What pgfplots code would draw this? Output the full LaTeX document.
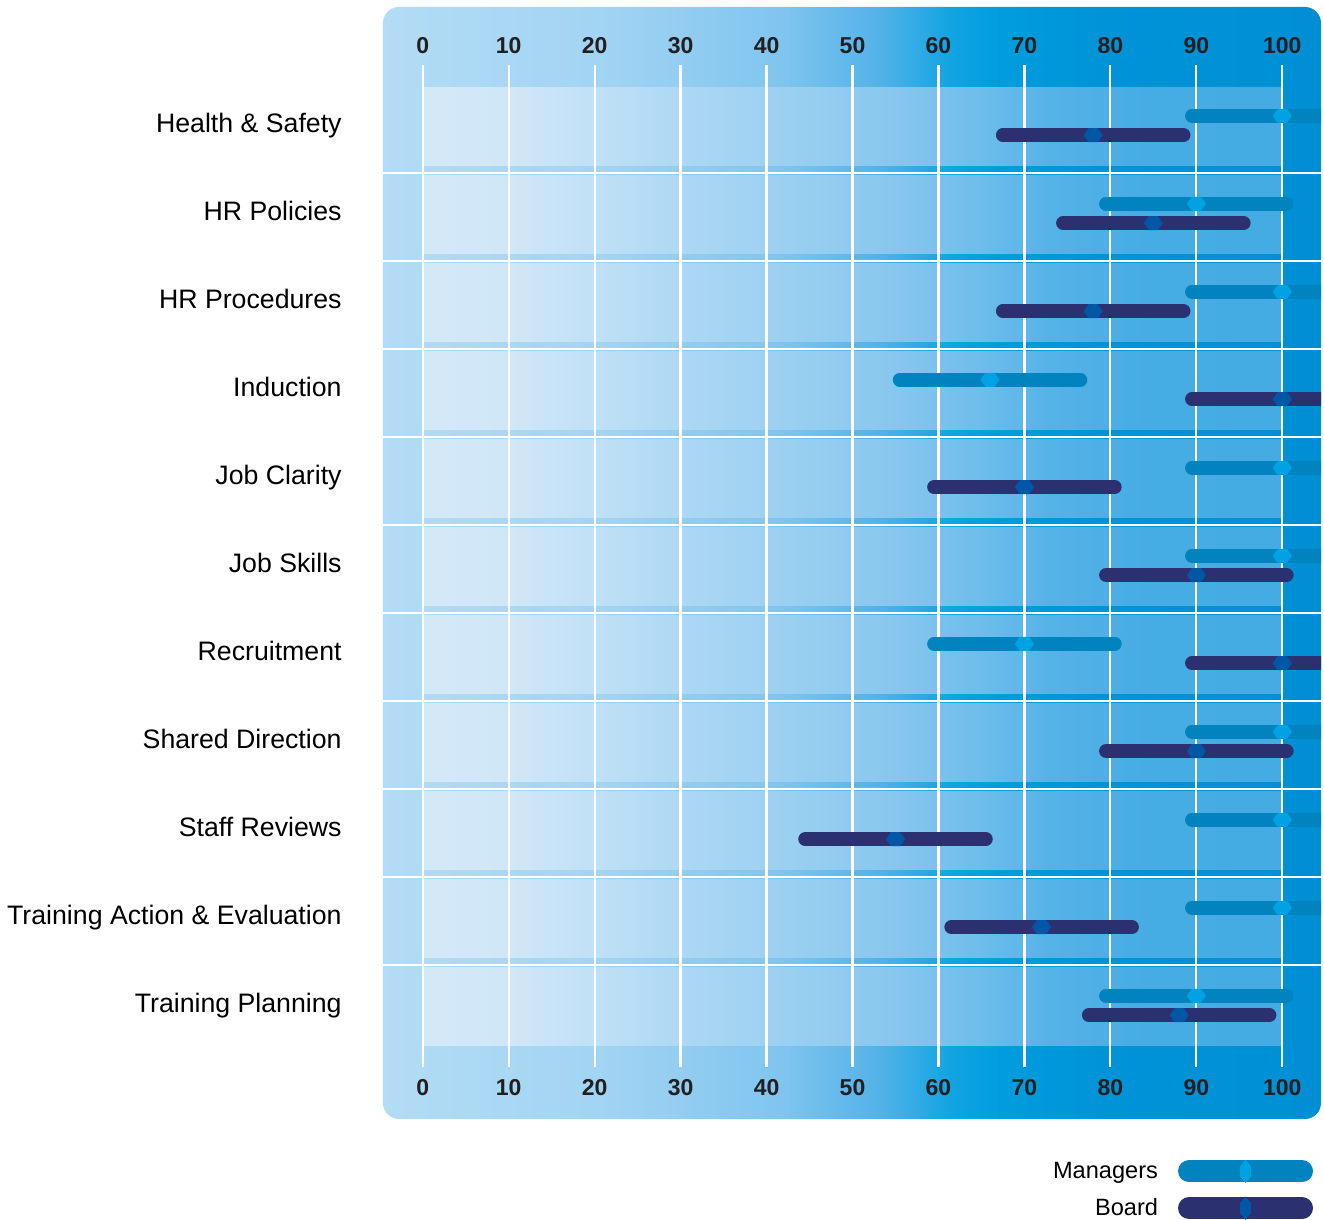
\documentclass[border=0pt]{standalone}
\usepackage{fontspec}
\setmainfont{Liberation Sans}
\usepackage{pgfplots}
\pgfplotsset{compat=1.18}
\usepackage{pgfplotstable}

% series colours
\definecolor{mgrbar}{HTML}{0083BF}
\definecolor{mgrmark}{HTML}{00A2E3}
\definecolor{brdbar}{HTML}{2B3070}
\definecolor{brdmark}{HTML}{0057A6}
\definecolor{ticktext}{HTML}{231F20}

% panel background, left to right
\definecolor{pA}{HTML}{B3DCF5}
\definecolor{pB}{HTML}{A2D4F3}
\definecolor{pC}{HTML}{80C5EE}
\definecolor{pD}{HTML}{52B2E8}
\definecolor{pE}{HTML}{12A4E2}
\definecolor{pF}{HTML}{009DDD}
\definecolor{pG}{HTML}{0093D8}
\definecolor{pH}{HTML}{008FD5}
\pgfdeclarehorizontalshading{panelbase}{100bp}{color(0bp)=(pA); color(25bp)=(pA); color(36.6bp)=(pB); color(46.2bp)=(pC); color(51.5bp)=(pD); color(55.2bp)=(pE); color(57.9bp)=(pF); color(63.2bp)=(pG); color(75bp)=(pH); color(100bp)=(pH)}

% lighter row bands between 0 and 100
\definecolor{oA}{HTML}{D4E9F8}
\definecolor{oB}{HTML}{D0E7F8}
\definecolor{oC}{HTML}{BFE0F6}
\definecolor{oD}{HTML}{AAD6F3}
\definecolor{oE}{HTML}{98CFF0}
\definecolor{oF}{HTML}{86C6EE}
\definecolor{oG}{HTML}{6EBDEB}
\definecolor{oH}{HTML}{55B2E7}
\definecolor{oI}{HTML}{46ACE4}
\definecolor{oJ}{HTML}{45ABE3}
\pgfdeclarehorizontalshading{rowlight}{100bp}{color(0bp)=(oA); color(25bp)=(oA); color(30.1bp)=(oB); color(35.3bp)=(oC); color(41.1bp)=(oD); color(47bp)=(oE); color(52.8bp)=(oF); color(57.4bp)=(oG); color(61.5bp)=(oH); color(67.3bp)=(oI); color(75bp)=(oJ); color(100bp)=(oJ)}

% flat hexagon marking the score on each bar
\pgfdeclareplotmark{hexh}{%
  \pgfpathmoveto{\pgfqpoint{-4.8pt}{0pt}}%
  \pgfpathlineto{\pgfqpoint{-2.3pt}{3.5pt}}%
  \pgfpathlineto{\pgfqpoint{2.3pt}{3.5pt}}%
  \pgfpathlineto{\pgfqpoint{4.8pt}{0pt}}%
  \pgfpathlineto{\pgfqpoint{2.3pt}{-3.5pt}}%
  \pgfpathlineto{\pgfqpoint{-2.3pt}{-3.5pt}}%
  \pgfpathclose
  \pgfusepathqfill}

% pos: row (10 = top); mgr / brd: scores
\pgfplotstableread{
pos mgr brd
10  100 78
9   90  85
8   100 78
7   66  100
6   100 70
5   100 90
4   70  100
3   100 90
2   100 55
1   100 72
0   90  88
}\scores

\pgfplotsset{
  panel/.style={
    scale only axis, width=469pt, height=556pt,
    xmin=-4.62, xmax=104.5, ymin=-1.25, ymax=11.386,
    axis line style={draw=none},
    major tick length=0pt,
    xtick={0,10,...,100},
    /pgf/number format/assume math mode=true,
  },
  scale labels/.style={
    panel,
    ytick=\empty,
    xticklabel style={font=\fontsize{11.5}{13}\selectfont\bfseries, text=ticktext, anchor=center},
  },
}

\begin{document}
\begin{tikzpicture}
\useasboundingbox (-191.5pt,-50.5pt) rectangle (470.5pt,559.5pt);
\begin{axis}[
  panel,
  clip mode=individual,
  xticklabels={},
  ytick={0,...,10},
  yticklabels={Training Planning, Training Action \& Evaluation, Staff Reviews, Shared Direction, Recruitment, Job Skills, Job Clarity, Induction, HR Procedures, HR Policies, Health \& Safety},
  yticklabel style={font=\fontsize{13.35}{15}\selectfont, text=black, anchor=base east, inner sep=0pt, xshift=-20.5pt, yshift=-1.75pt},
  legend plot pos=right,
  legend cell align=right,
  legend style={draw=none, fill=none, inner sep=0pt, outer sep=0pt,
    row sep=7pt, column sep=10pt,
    nodes={inner sep=0pt},
    font=\fontsize{11.8}{14}\selectfont,
    at={(0.9915,-0.0369)}, anchor=north east},
]
  % panel and row bands
  \shade[shading=panelbase, rounded corners=8pt] (axis cs:-4.62,-1.25) rectangle (axis cs:104.5,11.386);
  \pgfplotsinvokeforeach{0,...,10}{
    \shade[shading=rowlight] (axis cs:0,#1-0.42) rectangle (axis cs:100,#1+0.466);
  }
  \pgfplotsinvokeforeach{0.5,1.5,...,9.5}{
    \draw[white, line width=1.1pt] (axis cs:-4.62,#1) -- (axis cs:104.5,#1);
  }
  \pgfplotsinvokeforeach{0,10,...,100}{
    \draw[white, line width=1.1pt] (axis cs:#1,-0.66) -- (axis cs:#1,10.727);
  }

  % range bars
  \addplot[forget plot, draw=none, mark=none,
    error bars/.cd, x dir=both, x fixed=10.5, error mark=none,
    error bar style={draw=mgrbar, line width=7pt, line cap=round}]
    table[x=mgr, y expr=\thisrow{pos}+0.15] {\scores};
  \addplot[forget plot, draw=none, mark=none,
    error bars/.cd, x dir=both, x fixed=10.5, error mark=none,
    error bar style={draw=brdbar, line width=7pt, line cap=round}]
    table[x=brd, y expr=\thisrow{pos}-0.07] {\scores};

  % score markers
  \addplot[only marks, mark=hexh, mark options={fill=mgrmark, draw=none},
    legend image code/.code={
      \draw[mgrbar, line width=11pt, line cap=round] (5.5pt,0pt) -- (62pt,0pt);
      \fill[mgrmark] (33.75pt,5.5pt) -- (36.25pt,2.5pt) -- (36.25pt,-2.5pt) -- (33.75pt,-5.5pt) -- (31.25pt,-2.5pt) -- (31.25pt,2.5pt) -- cycle;
    }]
    table[x=mgr, y expr=\thisrow{pos}+0.15] {\scores};
  \addlegendentry{Managers}
  \addplot[only marks, mark=hexh, mark options={fill=brdmark, draw=none},
    legend image code/.code={
      \draw[brdbar, line width=11pt, line cap=round] (5.5pt,0pt) -- (62pt,0pt);
      \fill[brdmark] (33.75pt,5.5pt) -- (36.25pt,2.5pt) -- (36.25pt,-2.5pt) -- (33.75pt,-5.5pt) -- (31.25pt,-2.5pt) -- (31.25pt,2.5pt) -- cycle;
    }]
    table[x=brd, y expr=\thisrow{pos}-0.07] {\scores};
  \addlegendentry{Board}
\end{axis}

% scale along the top of the panel
\begin{axis}[scale labels, xticklabel pos=upper, xticklabel style={yshift=-19.5pt}]
\end{axis}

% scale along the bottom of the panel
\begin{axis}[scale labels, xticklabel style={yshift=15.5pt}]
\end{axis}
\end{tikzpicture}
\end{document}
